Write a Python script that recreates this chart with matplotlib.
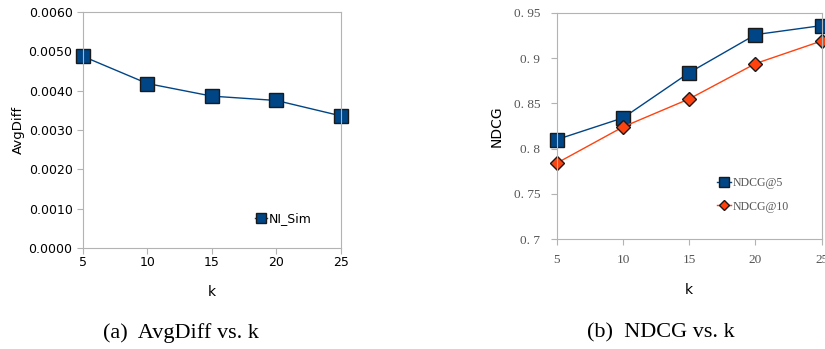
import numpy as np
import matplotlib
matplotlib.use('Agg')
import matplotlib.pyplot as plt

# data
k = [5, 10, 15, 20, 25]
avgdiff = [0.00487, 0.00418, 0.00386, 0.00375, 0.00336]
ndcg5 = [0.810, 0.834, 0.884, 0.926, 0.936]
ndcg10 = [0.784, 0.824, 0.855, 0.894, 0.919]
left_yticks = [0.0, 0.001, 0.002, 0.003, 0.004, 0.005, 0.006]
right_yticks = [0.7, 0.75, 0.8, 0.85, 0.9, 0.95]
right_yticklabels = ['0. 7', '0. 75', '0. 8', '0. 85', '0. 9', '0. 95']

blue = '#004586'
orange = '#ff420e'
spine = '#b3b3b3'

fig = plt.figure(figsize=(8.25, 3.49), dpi=100)

# (a) AvgDiff vs. k
ax1 = fig.add_axes([0.1006, 0.289, 0.3124, 0.677])
ax1.plot(k, avgdiff, color=blue, lw=1, marker='s', ms=10, clip_on=False,
         mfc=blue, mec='#1a1a1a', mew=1, label='NI_Sim')
ax1.set_xlim(5, 25)
ax1.set_ylim(0, 0.006)
ax1.set_xticks(k)
ax1.set_yticks(left_yticks)
ax1.set_yticklabels(['%.4f' % v for v in left_yticks])
ax1.set_xlabel('k', fontsize=10, labelpad=11)
ax1.set_ylabel('AvgDiff', fontsize=9.5, labelpad=3)
ax1.tick_params(labelsize=9, color=spine, length=4, direction='out')
ax1.tick_params(axis='x', pad=2)
for s in ax1.spines.values():
    s.set_color(spine)
ax1.legend(loc='lower right', bbox_to_anchor=(0.93, 0.05), frameon=False,
           fontsize=9, handlelength=1.0, handletextpad=0.1, markerscale=0.7)

# (b) NDCG vs. k
ax2 = fig.add_axes([0.675, 0.315, 0.321, 0.648])
ax2.plot(k, ndcg5, color=blue, lw=1, marker='s', ms=10, clip_on=False,
         mfc=blue, mec='#1a1a1a', mew=1, label='NDCG@5')
ax2.plot(k, ndcg10, color=orange, lw=1, marker='D', ms=7, clip_on=False,
         mfc=orange, mec='#1a1a1a', mew=1, label='NDCG@10')
ax2.set_xlim(5, 25)
ax2.set_ylim(0.7, 0.95)
ax2.set_xticks(k)
ax2.set_yticks(right_yticks)
ax2.set_yticklabels(right_yticklabels)
for t in ax2.get_xticklabels() + ax2.get_yticklabels():
    t.set_fontfamily('Liberation Serif')
    t.set_color('#555555')
ax2.set_xlabel('k', fontsize=10, labelpad=12)
ax2.set_ylabel('NDCG', fontsize=10, labelpad=7)
ax2.tick_params(labelsize=9.5, color=spine, length=4, direction='out')
ax2.tick_params(axis='y', pad=8)
ax2.tick_params(axis='x', pad=7)
for s in ax2.spines.values():
    s.set_color(spine)
leg = ax2.legend(loc='lower right', bbox_to_anchor=(0.915, 0.07), frameon=False,
                 prop={'family': 'Liberation Serif', 'size': 8.5},
                 handlelength=1.2, handletextpad=0.1, markerscale=0.7,
                 labelspacing=1.0)
for t in leg.get_texts():
    t.set_color('#555555')

# captions
fig.text(0.219, 0.045, '(a)  AvgDiff vs. k', family='Liberation Serif',
         fontsize=16, ha='center', va='center')
fig.text(0.801, 0.045, '(b)  NDCG vs. k', family='Liberation Serif',
         fontsize=16, ha='center', va='center')

fig.savefig('out.png', dpi=100)
